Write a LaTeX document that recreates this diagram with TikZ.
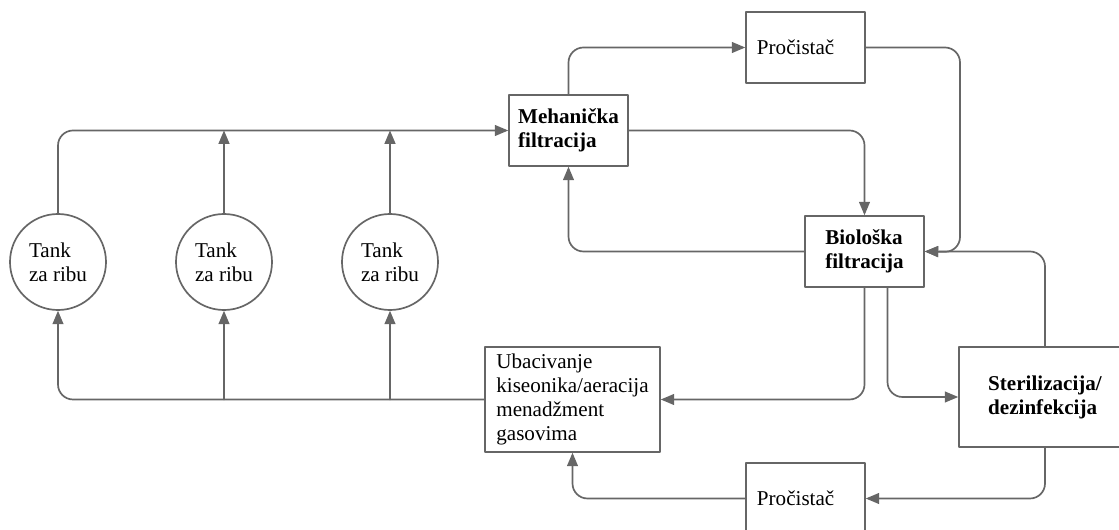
\documentclass[tikz,border=0pt]{standalone}
\usepackage{fontspec}
\setmainfont{Liberation Serif}
\usetikzlibrary{arrows}
\definecolor{wwwwww}{rgb}{0.4,0.4,0.4}
\tikzset{
  blok/.style={draw=wwwwww,line width=1.2pt,fill=white,inner sep=2pt,align=left,minimum width=2.975cm,minimum height=1.775cm},
  cist/.style={blok,inner xsep=0.275cm,text width=2.425cm},
  tank/.style={draw=wwwwww,line width=1.2pt,fill=white,circle,align=left,minimum size=2.4cm,inner sep=0pt},
  tok/.style={->,draw=wwwwww,line width=1.2pt,rounded corners=0.375cm}
}
\begin{document}
\begin{tikzpicture}[line cap=round,line join=round,>=triangle 45,x=0.025cm,y=-0.025cm,font=\fontsize{15}{17}\selectfont]
\useasboundingbox (0,0) rectangle (1119,530);
% rezervoari
\node[tank] (t1) at (58,262) {Tank\\za ribu};
\node[tank] (t2) at (224,262) {Tank\\za ribu};
\node[tank] (t3) at (390,262) {Tank\\za ribu};
% blokovi
\node[blok,font=\fontsize{15}{17}\selectfont\bfseries] (meh) at (568.5,130.5) {Mehanička\\filtracija};
\node[cist] (pro1) at (805.5,47.5) {Pročistač};
\node[blok,font=\fontsize{15}{17}\selectfont\bfseries] (bio) at (864.5,251.5) {Biološka\\filtracija};
\node[blok,minimum width=4.375cm,minimum height=2.625cm] (uba) at (572.5,399.5) {Ubacivanje\\kiseonika/aeracija\\menadžment\\gasovima};
\node[blok,minimum width=4.3cm,minimum height=2.5cm,font=\fontsize{15}{17}\selectfont\bfseries] (ster) at (1045,397) {Sterilizacija/\\dezinfekcija};
\node[cist] (pro2) at (805.5,498.5) {Pročistač};
\coordinate (kolo) at (960,252);
% gornji tok
\draw[tok] (t1.north) |- (meh.west);
\draw[tok] (t2.north) -- (t2.north |- meh.west);
\draw[tok] (t3.north) -- (t3.north |- meh.west);
\draw[tok] (meh.north) |- (pro1.west);
\draw[tok] (meh.east) -| (bio.north);
\draw[tok] (pro1.east) -| (kolo) -- (bio.east);
\draw[tok] (ster.north) |- (bio.east);
\draw[tok] (bio.west) -| (meh.south);
% donji tok
\draw[tok] (bio.south) |- (uba.east);
\draw[tok] ([xshift=0.575cm]bio.south) |- (ster.west);
\draw[tok] (ster.south) |- (pro2.east);
\draw[tok] (pro2.west) -| (uba.south);
\draw[tok] (uba.west) -| (t1.south);
\draw[tok] (t2.south |- uba.west) -- (t2.south);
\draw[tok] (t3.south |- uba.west) -- (t3.south);
\end{tikzpicture}
\end{document}
